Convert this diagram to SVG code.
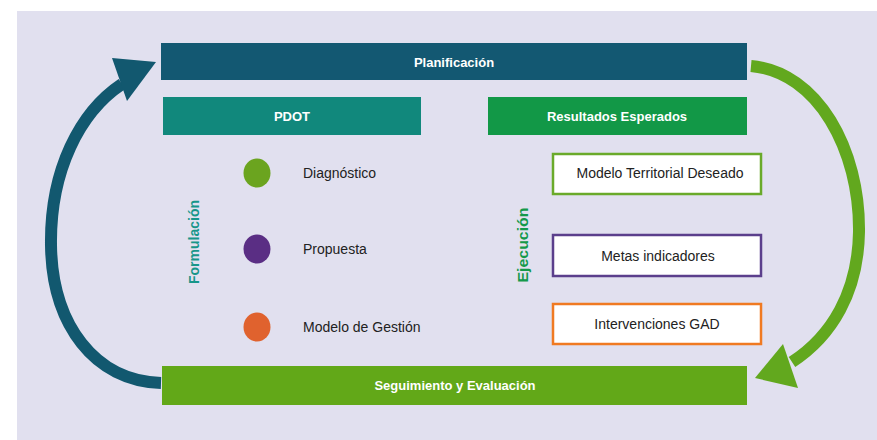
<svg xmlns="http://www.w3.org/2000/svg" width="877" height="440" viewBox="0 0 877 440">
<style>
.bar-t{font-family:"Liberation Sans",Arial,sans-serif;font-weight:bold;font-size:13px;fill:#fff;text-anchor:middle;dominant-baseline:central}
.item{font-family:"Liberation Sans",Arial,sans-serif;font-size:14px;fill:#222;dominant-baseline:central}
.box{fill:#fff;stroke-width:2.5}
.box-t{font-family:"Liberation Sans",Arial,sans-serif;font-size:14px;fill:#222;text-anchor:middle;dominant-baseline:central}
.vert{font-family:"Liberation Sans",Arial,sans-serif;font-weight:bold;font-size:14px;text-anchor:middle;dominant-baseline:central}
</style>
<rect x="0" y="0" width="877" height="440" fill="#ffffff"/>
<rect x="17" y="11" width="860" height="429" fill="#e1e0ef"/>

<g id="connectors">
  <path d="M161 383 C 95 381, 52 325, 51 245 C 50 170, 80 112, 122 84" fill="none" stroke="#12586f" stroke-width="12"/>
  <polygon points="156,62 112,58 127,101" fill="#12586f"/>
  <path d="M751 66 C 818 72, 860 150, 859 232 C 858 292, 832 336, 792 362" fill="none" stroke="#62a81e" stroke-width="12"/>
  <polygon points="755,378 783,344 798,388" fill="#62a81e"/>
</g>

<g id="planificacion">
  <rect x="161" y="43" width="586" height="37" fill="#135872"/>
  <text class="bar-t" x="454" y="62">Planificación</text>
</g>
<g id="pdot">
  <rect x="163" y="97" width="258" height="38" fill="#11887c"/>
  <text class="bar-t" x="292" y="116">PDOT</text>
</g>
<g id="resultados">
  <rect x="488" y="97" width="259" height="38" fill="#129847"/>
  <text class="bar-t" x="617" y="116">Resultados Esperados</text>
</g>
<g id="seguimiento">
  <rect x="162" y="366" width="585" height="39" fill="#62a818"/>
  <text class="bar-t" x="455" y="385">Seguimiento y Evaluación</text>
</g>

<g id="formulacion">
  <text class="vert" fill="#17968a" transform="translate(194,242) rotate(-90)" textLength="84" lengthAdjust="spacingAndGlyphs">Formulación</text>
</g>
<g id="ejecucion">
  <text class="vert" fill="#14994a" transform="translate(523,245) rotate(-90)" textLength="75" lengthAdjust="spacingAndGlyphs">Ejecución</text>
</g>

<g id="diagnostico">
  <ellipse cx="257" cy="173" rx="13.5" ry="14.5" fill="#6ba41f"/>
  <text class="item" x="303" y="173">Diagnóstico</text>
</g>
<g id="propuesta">
  <ellipse cx="257" cy="249" rx="13.5" ry="14.5" fill="#5a2e84"/>
  <text class="item" x="303" y="249">Propuesta</text>
</g>
<g id="modelo-gestion">
  <ellipse cx="257" cy="327" rx="13.5" ry="14.5" fill="#e0622e"/>
  <text class="item" x="303" y="327">Modelo de Gestión</text>
</g>

<g id="modelo-territorial">
  <rect class="box" x="553" y="154" width="208" height="40" stroke="#6aaa2a"/>
  <text class="box-t" x="660" y="173">Modelo Territorial Deseado</text>
</g>
<g id="metas">
  <rect class="box" x="553" y="235" width="208" height="41" stroke="#5b3f8c"/>
  <text class="box-t" x="658" y="256">Metas indicadores</text>
</g>
<g id="intervenciones">
  <rect class="box" x="553" y="304" width="208" height="40" stroke="#f07a22"/>
  <text class="box-t" x="657" y="324">Intervenciones GAD</text>
</g>
</svg>
